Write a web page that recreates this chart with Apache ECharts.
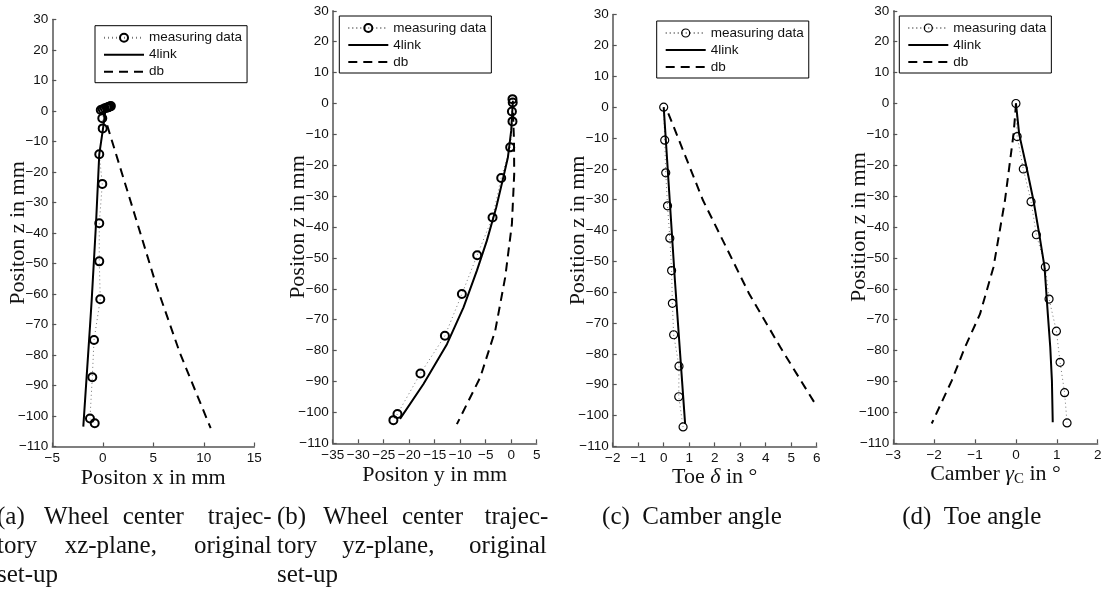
<!DOCTYPE html>
<html><head><meta charset="utf-8">
<script src="https://cdn.jsdelivr.net/npm/echarts@6/dist/echarts.min.js"></script>
<style>html,body{margin:0;padding:0;background:#fff}#c{width:1109px;height:593px}</style>
</head><body><div id="c"></div>
<script>
// ---------- DATA ----------
const seriesNames = ['measuring data', '4link', 'db'];

// (a) xz-plane
const aMeasX = [-0.2, 0.0, 0.2, 0.4, 0.6, 0.7, 0.8, 0.5, -0.05, -0.01, -0.35, -0.05, -0.35, -0.35, -0.25, -0.87, -1.04, -1.27, -0.8];
const aMeasZ = [0.3, 0.6, 0.9, 1.1, 1.3, 1.5, 1.6, 1.2, -2.4, -5.7, -14.2, -23.9, -36.8, -49.3, -61.7, -75.1, -87.3, -100.8, -102.4];
const aLinkX = [0.25, 0.05, -0.35, -0.67, -1.1, -1.27, -1.93];
const aLinkZ = [0, -5.1, -14.2, -36.8, -62, -70.7, -103.5];
const aDbX = [0, 0.88, 3.02, 5.34, 7.64, 10.68];
const aDbZ = [0, -9.5, -32.5, -57.6, -79.4, -104];

// (b) yz-plane
const bMeasX = [0.25, 0.3, 0.14, 0.25, -0.2, -1.96, -3.66, -6.67, -9.67, -13.0, -17.8, -22.3, -23.1];
const bMeasZ = [1.4, 0.3, -2.6, -5.8, -14.2, -24.1, -36.9, -49.1, -61.7, -75.2, -87.4, -100.5, -102.5];
const bLinkX = [0.33, 0.0, -0.65, -1.7, -2.94, -4.77, -6.73, -9.35, -12.6, -17.2, -21.8];
const bLinkZ = [0.9, -8.8, -17.5, -25, -33.7, -44.4, -54.1, -66, -77.9, -90.8, -102.1];
const bDbX = [0.35, 0.55, 0.59, 0.14, -1.18, -3.14, -6.08, -10.65];
const bDbZ = [-3, -12, -22.8, -39, -56.3, -73.6, -88.7, -103.8];

// (c) toe
const cMeasX = [0.0, 0.04, 0.08, 0.15, 0.24, 0.31, 0.34, 0.39, 0.60, 0.59, 0.76];
const cMeasZ = [0, -10.7, -21.3, -32.0, -42.5, -53.0, -63.6, -73.8, -84.0, -93.9, -103.7];
const cLinkX = [0.0, 0.44, 0.84];
const cLinkZ = [0, -56.2, -102.7];
const cDbX = [0.18, 1.54, 3.35, 4.57, 6.0];
const cDbZ = [-2.0, -30.2, -60.5, -77.8, -97.0];

// (d) camber
const dMeasX = [0.0, 0.03, 0.18, 0.37, 0.50, 0.72, 0.81, 0.99, 1.08, 1.19, 1.25];
const dMeasZ = [0, -10.7, -21.2, -31.8, -42.5, -52.9, -63.3, -73.7, -83.8, -93.6, -103.4];
const dLinkX = [0.0, 0.08, 0.26, 0.43, 0.57, 0.70, 0.78, 0.84, 0.88, 0.90];
const dLinkZ = [0, -10.0, -20.7, -31.5, -42.3, -53.0, -68.2, -79.0, -89.7, -103.2];
const dDbX = [0.0, -0.02, -0.06, -0.27, -0.55, -0.88, -1.25, -1.57, -2.06];
const dDbZ = [0, -3.9, -10, -31.5, -53, -68.2, -79, -89.7, -103.6];

// axis ranges / labels
const xRanges = [[-5, 15, 5], [-35, 5, 5], [-2, 6, 1], [-3, 2, 1]];
const yRange = [-110, 30, 10];
const xNames = ['Positon x in mm', 'Positon y in mm', 'Toe {i|δ} in °', 'Camber {i|γ}{sub|C} in °'];
const yNames = ['Positon z in mm', 'Positon z in mm', 'Position z in mm', 'Position z in mm'];

// ---------- BUILD ----------
const zip = (xs, zs) => xs.map((x, i) => [x, zs[i]]);
const panels = [
  {meas: zip(aMeasX, aMeasZ), link: zip(aLinkX, aLinkZ), db: zip(aDbX, aDbZ)},
  {meas: zip(bMeasX, bMeasZ), link: zip(bLinkX, bLinkZ), db: zip(bDbX, bDbZ)},
  {meas: zip(cMeasX, cMeasZ), link: zip(cLinkX, cLinkZ), db: zip(cDbX, cDbZ)},
  {meas: zip(dMeasX, dMeasZ), link: zip(dLinkX, dLinkZ), db: zip(dDbX, dDbZ)}
];

const gridBoxes = [
  {left: 52.3, top: 19.5, width: 202, height: 427},
  {left: 332.7, top: 10.8, width: 204, height: 432.5},
  {left: 612.7, top: 14.6, width: 204, height: 431.8},
  {left: 893.3, top: 10.8, width: 204.4, height: 432.5}
];
const legendPos = [[95, 25.7], [339.3, 16], [656.7, 21], [899.3, 16]];
const markerBorder = [2, 2, 1.2, 1.2];
const xNameGap = [21, 21, 20, 19];

const minus = v => String(v).replace('-', '\u2212');
const axisColor = '#555';
const sans = 'Liberation Sans';
const serif = 'Liberation Serif';

const grid = [], xAxis = [], yAxis = [], series = [], legend = [];
gridBoxes.forEach((g, i) => {
  grid.push(Object.assign({containLabel: false}, g));
  xAxis.push({
    type: 'value', gridIndex: i,
    min: xRanges[i][0], max: xRanges[i][1], interval: xRanges[i][2],
    axisLine: {onZero: false, lineStyle: {color: axisColor, width: 1.5}},
    axisTick: {inside: true, length: 4, lineStyle: {color: axisColor, width: 1.2}},
    axisLabel: {color: '#111', fontFamily: sans, fontSize: 13.5, margin: 5, formatter: minus},
    splitLine: {show: false},
    name: xNames[i], nameLocation: 'middle', nameGap: xNameGap[i], nameMoveOverlap: false,
    nameTextStyle: {
      color: '#111', fontFamily: serif, fontSize: 22,
      rich: {
        i: {fontFamily: serif, fontSize: 22, fontStyle: 'italic', color: '#111'},
        sub: {fontFamily: serif, fontSize: 15, color: '#111', verticalAlign: 'top', padding: [9, 0, 0, 0]}
      }
    }
  });
  yAxis.push({
    type: 'value', gridIndex: i,
    min: yRange[0], max: yRange[1], interval: yRange[2],
    axisLine: {onZero: false, lineStyle: {color: axisColor, width: 1.5}},
    axisTick: {inside: true, length: 4, lineStyle: {color: axisColor, width: 1.2}},
    axisLabel: {color: '#111', fontFamily: sans, fontSize: 13.5, margin: 4, formatter: minus},
    splitLine: {show: false},
    name: yNames[i], nameLocation: 'middle', nameGap: 23, nameMoveOverlap: false,
    nameTextStyle: {color: '#111', fontFamily: serif, fontSize: 22}
  });
  const p = panels[i];
  series.push({
    name: seriesNames[0], type: 'line', xAxisIndex: i, yAxisIndex: i, data: p.meas,
    symbol: 'circle', symbolSize: 8, showSymbol: true,
    itemStyle: {color: 'rgba(0,0,0,0)', borderColor: '#000', borderWidth: markerBorder[i]},
    lineStyle: {color: '#777', width: 1, type: [1, 3]},
    emphasis: {disabled: true}, animation: false, z: 3
  });
  series.push({
    name: seriesNames[1], type: 'line', xAxisIndex: i, yAxisIndex: i, data: p.link,
    symbol: 'none', lineStyle: {color: '#000', width: 2, type: 'solid'},
    itemStyle: {color: '#000'}, emphasis: {disabled: true}, animation: false, z: 4
  });
  series.push({
    name: seriesNames[2], type: 'line', xAxisIndex: i, yAxisIndex: i, data: p.db,
    symbol: 'none', lineStyle: {color: '#000', width: 2, type: [9, 6]},
    itemStyle: {color: '#000'}, emphasis: {disabled: true}, animation: false, z: 4
  });
  legend.push({
    orient: 'vertical', left: legendPos[i][0], top: legendPos[i][1],
    backgroundColor: '#fff', borderColor: '#000', borderWidth: 1,
    padding: [5, 5, 4, 8], itemGap: 3, itemWidth: 40, itemHeight: 10,
    selectedMode: false,
    textStyle: {color: '#111', fontFamily: sans, fontSize: 13.5},
    data: [
      {name: seriesNames[0], itemStyle: {color: 'rgba(0,0,0,0)', borderColor: '#000', borderWidth: markerBorder[i]}},
      {name: seriesNames[1], itemStyle: {opacity: 0}},
      {name: seriesNames[2], itemStyle: {opacity: 0}}
    ]
  });
});

// captions (sub-figure titles)
const capFont = {fontFamily: serif, fontSize: 25, fill: '#111'};
const capWords = [
  ['(a)', -3, 517.7, 'left'], ['Wheel', 76.7, 517.7, 'center'], ['center', 153.3, 517.7, 'center'], ['trajec-', 271.7, 517.7, 'right'],
  ['tory', -3, 546.7, 'left'], ['xz-plane,', 110.8, 546.7, 'center'], ['original', 271.7, 546.7, 'right'],
  ['set-up', -3, 575.7, 'left'],
  ['(b)', 277, 517.7, 'left'], ['Wheel', 355.8, 517.7, 'center'], ['center', 432.5, 517.7, 'center'], ['trajec-', 548.3, 517.7, 'right'],
  ['tory', 277, 546.7, 'left'], ['yz-plane,', 388.3, 546.7, 'center'], ['original', 546.7, 546.7, 'right'],
  ['set-up', 277, 575.7, 'left'],
  ['(c)  Camber angle', 692, 517.7, 'center'],
  ['(d)  Toe angle', 971.8, 517.7, 'center']
];
const graphic = capWords.map(w => ({
  type: 'text', x: w[1], y: w[2], silent: true,
  style: Object.assign({text: w[0], align: w[3], verticalAlign: 'middle'}, capFont)
}));

const chart = echarts.init(document.getElementById('c'), null, {renderer: 'canvas'});
chart.setOption({
  animation: false,
  backgroundColor: '#fff',
  grid, xAxis, yAxis, series, legend, graphic
});
</script>
</body></html>
